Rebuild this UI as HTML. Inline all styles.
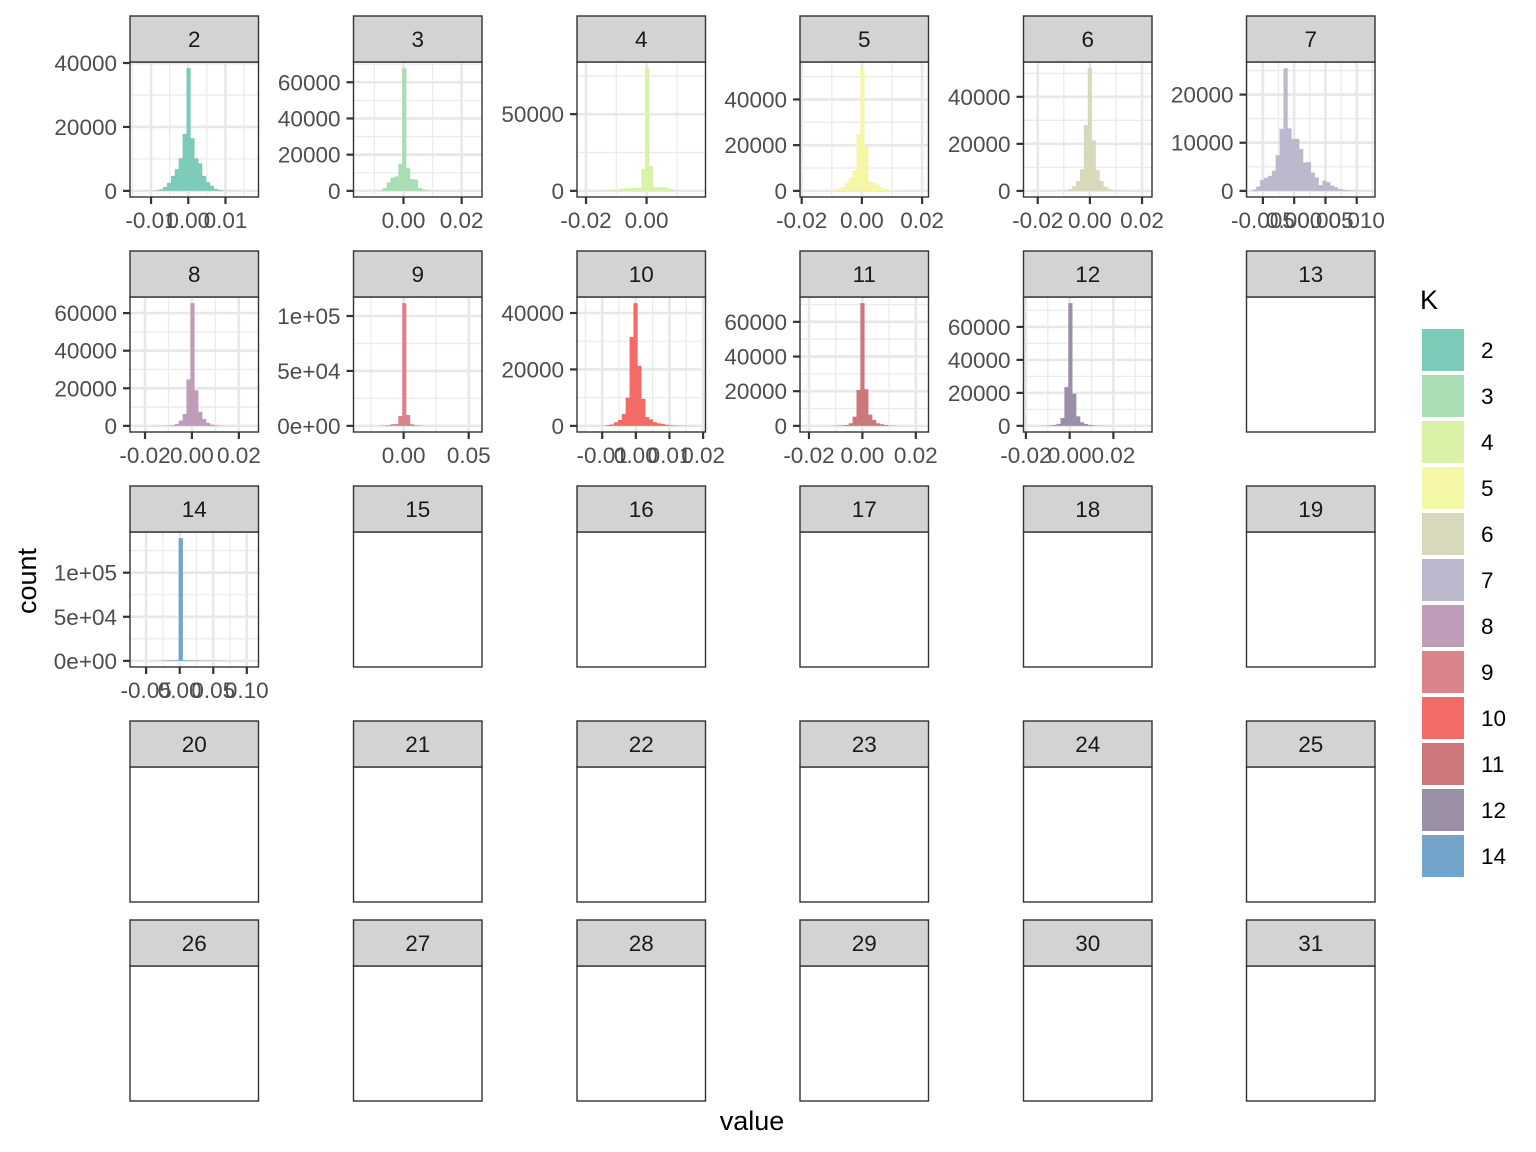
<!DOCTYPE html>
<html><head><meta charset="utf-8">
<style>
html,body{margin:0;padding:0;background:#fff;}
svg{display:block;font-family:"Liberation Sans",Arial,sans-serif;}
</style></head>
<body>
<svg id="chart" width="1536" height="1152" viewBox="0 0 1536 1152" xmlns="http://www.w3.org/2000/svg">
<text x="0" y="0" transform="translate(36,581) rotate(-90)" text-anchor="middle" font-size="27" fill="#000">count</text>
<text x="752" y="1130" text-anchor="middle" font-size="27" fill="#000">value</text>
<g id="panels"></g>
<g id="legend"></g>
</svg>
<script>
// ---- data ----
const facetLabels = ["2","3","4","5","6","7","8","9","10","11","12","13","14","15","16","17","18","19","20","21","22","23","24","25","26","27","28","29","30","31"];
const legendKeys = ["2","3","4","5","6","7","8","9","10","11","12","14"];
const legendColors = ["#7ccbb9","#a9ddb4","#d9f2a8","#f6f7a6","#d8d8bb","#bcb8cd","#bf9cb8","#d9848b","#f26b66","#cc777a","#9a8fa5","#72a5c9"];

const counts2  = [2,5,10,30,80,200,500,1200,2500,4700,6800,10200,17800,38400,16500,10200,8600,4700,2700,1600,600,300,120,50,20,10,5,3,2,1];
const counts3  = [2,5,10,30,100,300,1500,4700,7300,8000,15000,67800,12500,6500,6300,1600,700,300,150,80,40,20,10,5,3,2,1,1,1,1];
const counts4  = [5,10,20,50,100,200,300,500,800,1200,1500,1700,1800,1900,2000,14200,80000,16300,2600,2500,2400,2200,1200,400,150,60,20,10,5,2];
const counts5  = [1,2,5,10,20,50,100,300,860,1600,3700,5900,9100,24900,53700,19300,4000,3450,2700,1600,860,300,150,60,30,15,8,4,2,1];
const counts6  = [1,2,3,5,10,20,40,80,150,300,840,2000,4200,9200,28000,52200,21500,8800,4200,1800,840,400,200,100,50,20,10,5,2,1];
const counts7  = [300,900,2300,2700,3100,4200,7400,12900,25500,13000,10800,10800,8700,5900,6000,3800,2800,1200,2100,1800,1100,750,400,250,150,100,60,30,15,5];
const counts8  = [1,2,3,5,10,20,50,100,200,400,1000,2800,6300,24700,65300,18900,7500,3700,1600,700,350,150,80,40,20,10,5,3,2,1];
const counts9  = [1,2,5,10,30,100,300,600,1500,1800,9000,111700,9900,1500,600,300,150,80,40,20,10,5,3,2,1,1,1,1,1,1];
const counts10 = [1,2,5,10,30,100,300,500,1300,2100,4200,10000,31500,43500,21300,9600,3100,2300,1300,900,700,400,250,150,100,60,30,15,5,2];
const counts11 = [1,2,3,5,10,20,50,100,200,300,500,1500,5300,20700,70800,21100,6500,3400,1500,950,500,250,120,60,30,15,8,4,2,1];
const counts12 = [1,5,20,60,150,300,600,1200,4800,23500,74400,19500,5800,2200,1200,600,300,150,80,40,20,10,5,3,2,1,1,1,1,1];
const counts14 = [1,2,3,5,10,50,200,500,600,700,800,139200,800,700,600,500,500,400,400,300,300,300,100,20,5,3,2,1,1,1];

const xDomains = {"2":[-0.01565,0.01887],"3":[-0.0172,0.027],"4":[-0.02297,0.01945],"5":[-0.02056,0.02212],"6":[-0.02546,0.02382],"7":[-0.00762,0.01292],"8":[-0.0264,0.02838],"9":[-0.0385,0.0602],"10":[-0.01749,0.02071],"11":[-0.02336,0.02475],"12":[-0.0211,0.03767],"14":[-0.074,0.1174]};
const xTickVals = {"2":[-0.01,0,0.01],"3":[0,0.02],"4":[-0.02,0],"5":[-0.02,0,0.02],"6":[-0.02,0,0.02],"7":[-0.005,0,0.005,0.01],"8":[-0.02,0,0.02],"9":[0,0.05],"10":[-0.01,0,0.01,0.02],"11":[-0.02,0,0.02],"12":[-0.02,0,0.02],"14":[-0.05,0,0.05,0.1]};
const xTickLabels = {"2":["-0.01","0.00","0.01"],"3":["0.00","0.02"],"4":["-0.02","0.00"],"5":["-0.02","0.00","0.02"],"6":["-0.02","0.00","0.02"],"7":["-0.005","0.000","0.005","0.010"],"8":["-0.02","0.00","0.02"],"9":["0.00","0.05"],"10":["-0.01","0.00","0.01","0.02"],"11":["-0.02","0.00","0.02"],"12":["-0.02","0.00","0.02"],"14":["-0.05","0.00","0.05","0.10"]};
const yTickVals = {"2":[0,20000,40000],"3":[0,20000,40000,60000],"4":[0,50000],"5":[0,20000,40000],"6":[0,20000,40000],"7":[0,10000,20000],"8":[0,20000,40000,60000],"9":[0,50000,100000],"10":[0,20000,40000],"11":[0,20000,40000,60000],"12":[0,20000,40000,60000],"14":[0,50000,100000]};
const yTickLabels = {"2":["0","20000","40000"],"3":["0","20000","40000","60000"],"4":["0","50000"],"5":["0","20000","40000"],"6":["0","20000","40000"],"7":["0","10000","20000"],"8":["0","20000","40000","60000"],"9":["0e+00","5e+04","1e+05"],"10":["0","20000","40000"],"11":["0","20000","40000","60000"],"12":["0","20000","40000","60000"],"14":["0e+00","5e+04","1e+05"]};
const panelCounts = {"2":counts2,"3":counts3,"4":counts4,"5":counts5,"6":counts6,"7":counts7,"8":counts8,"9":counts9,"10":counts10,"11":counts11,"12":counts12,"14":counts14};

// ---- layout ----
const NS = "http://www.w3.org/2000/svg";
const colX = [130,353.5,577,800,1023.5,1246.5];
const PW = 128.5, PH = 135;
const rowStripTop = [16,251,486,721,920];
const STRIP = 46;
const FS = 22.5;
const panelsG = document.getElementById("panels");

function mk(tag, attrs, parent){
  const e = document.createElementNS(NS, tag);
  for (const k in attrs) e.setAttribute(k, attrs[k]);
  parent.appendChild(e);
  return e;
}

facetLabels.forEach((lab, i) => {
  const r = Math.floor(i/6), c = i%6;
  const x0 = colX[c], st = rowStripTop[r], y0 = st + STRIP, y1 = y0 + PH, x1 = x0 + PW;
  const g = mk("g", {}, panelsG);
  
  
  const bg = mk("rect", {x:x0, y:y0, width:PW, height:PH, fill:"#fff"}, g);
  
  
  const ci = legendKeys.indexOf(lab);
  const counts = panelCounts[lab];
  if (counts) {
    const [xlo, xhi] = xDomains[lab];
    const M = Math.max(...counts);
    const ylo = -0.05*M, yhi = 1.05*M;
    const sx = v => x0 + (v - xlo)/(xhi - xlo)*PW;
    const sy = v => y1 - (v - ylo)/(yhi - ylo)*PH;
    const xt = xTickVals[lab], yt = yTickVals[lab];
    const xstep = xt[1]-xt[0], ystep = yt[1]-yt[0];
    const gridG = mk("g", {}, g);
    
    
    for (let k = Math.floor(xlo/xstep)-1; k <= Math.ceil(xhi/xstep)+1; k++){
      const vm = (k+0.5)*xstep;
      if (vm > xlo && vm < xhi) mk("line",{x1:sx(vm),x2:sx(vm),y1:y0,y2:y1,stroke:"#ebebeb","stroke-width":1.3},gridG);
    }
    for (let k = Math.floor(ylo/ystep)-1; k <= Math.ceil(yhi/ystep)+1; k++){
      const vm = (k+0.5)*ystep;
      if (vm > ylo && vm < yhi) mk("line",{x1:x0,x2:x1,y1:sy(vm),y2:sy(vm),stroke:"#ebebeb","stroke-width":1.3},gridG);
    }
    for (let k = Math.floor(xlo/xstep)-1; k <= Math.ceil(xhi/xstep)+1; k++){
      const v = k*xstep;
      if (v > xlo && v < xhi) mk("line",{x1:sx(v),x2:sx(v),y1:y0,y2:y1,stroke:"#e8e8e8","stroke-width":2.6},gridG);
    }
    for (let k = Math.floor(ylo/ystep)-1; k <= Math.ceil(yhi/ystep)+1; k++){
      const v = k*ystep;
      if (v > ylo && v < yhi) mk("line",{x1:x0,x2:x1,y1:sy(v),y2:sy(v),stroke:"#e8e8e8","stroke-width":2.6},gridG);
    }
    const dr = (xhi - xlo)/1.1;
    const start = xlo + 0.05*dr;
    const bw = dr / counts.length;
    counts.forEach((cnt, j) => {
      const a = sx(start + j*bw), b = sx(start + (j+1)*bw);
      const bar = mk("rect",{x:a, y:sy(cnt), width:b-a+0.3, height:sy(0)-sy(cnt), fill:legendColors[ci]}, g);
      
      
    });
    xt.forEach((v, j) => {
      mk("line",{x1:sx(v),x2:sx(v),y1:y1,y2:y1+7,stroke:"#333","stroke-width":2.2},g);
      const t = mk("text",{x:sx(v), y:y1+31, "text-anchor":"middle","font-size":FS,fill:"#4d4d4d"},g);
      t.textContent = xTickLabels[lab][j];
      
      
    });
    yt.forEach((v, j) => {
      mk("line",{x1:x0-7,x2:x0,y1:sy(v),y2:sy(v),stroke:"#333","stroke-width":2.2},g);
      const t = mk("text",{x:x0-13, y:sy(v)+8, "text-anchor":"end","font-size":FS,fill:"#4d4d4d"},g);
      t.textContent = yTickLabels[lab][j];
      
      
    });
  }
  const border = mk("rect",{x:x0, y:y0, width:PW, height:PH, fill:"none", stroke:"#333","stroke-width":1.4}, g);
  
  
  const strip = mk("rect",{x:x0, y:st, width:PW, height:STRIP, fill:"#d3d3d3", stroke:"#333","stroke-width":1.4}, g);
  
  
  const stt = mk("text",{x:x0+PW/2, y:st+STRIP/2+8, "text-anchor":"middle","font-size":FS,fill:"#1a1a1a"}, g);
  stt.textContent = lab;
  
  
});

const lg = document.getElementById("legend");
const lt = mk("text",{x:1420, y:309, "font-size":"27", fill:"#000"}, lg);
lt.textContent = "K";


legendKeys.forEach((k, i) => {
  const y = 329 + i*46;
  const key = mk("rect",{x:1422, y:y, width:42, height:42, fill:legendColors[i]}, lg);
  
  
  const t = mk("text",{x:1481, y:y+29, "font-size":FS, fill:"#000"}, lg);
  t.textContent = k;
  
  
});
</script>
</body></html>
